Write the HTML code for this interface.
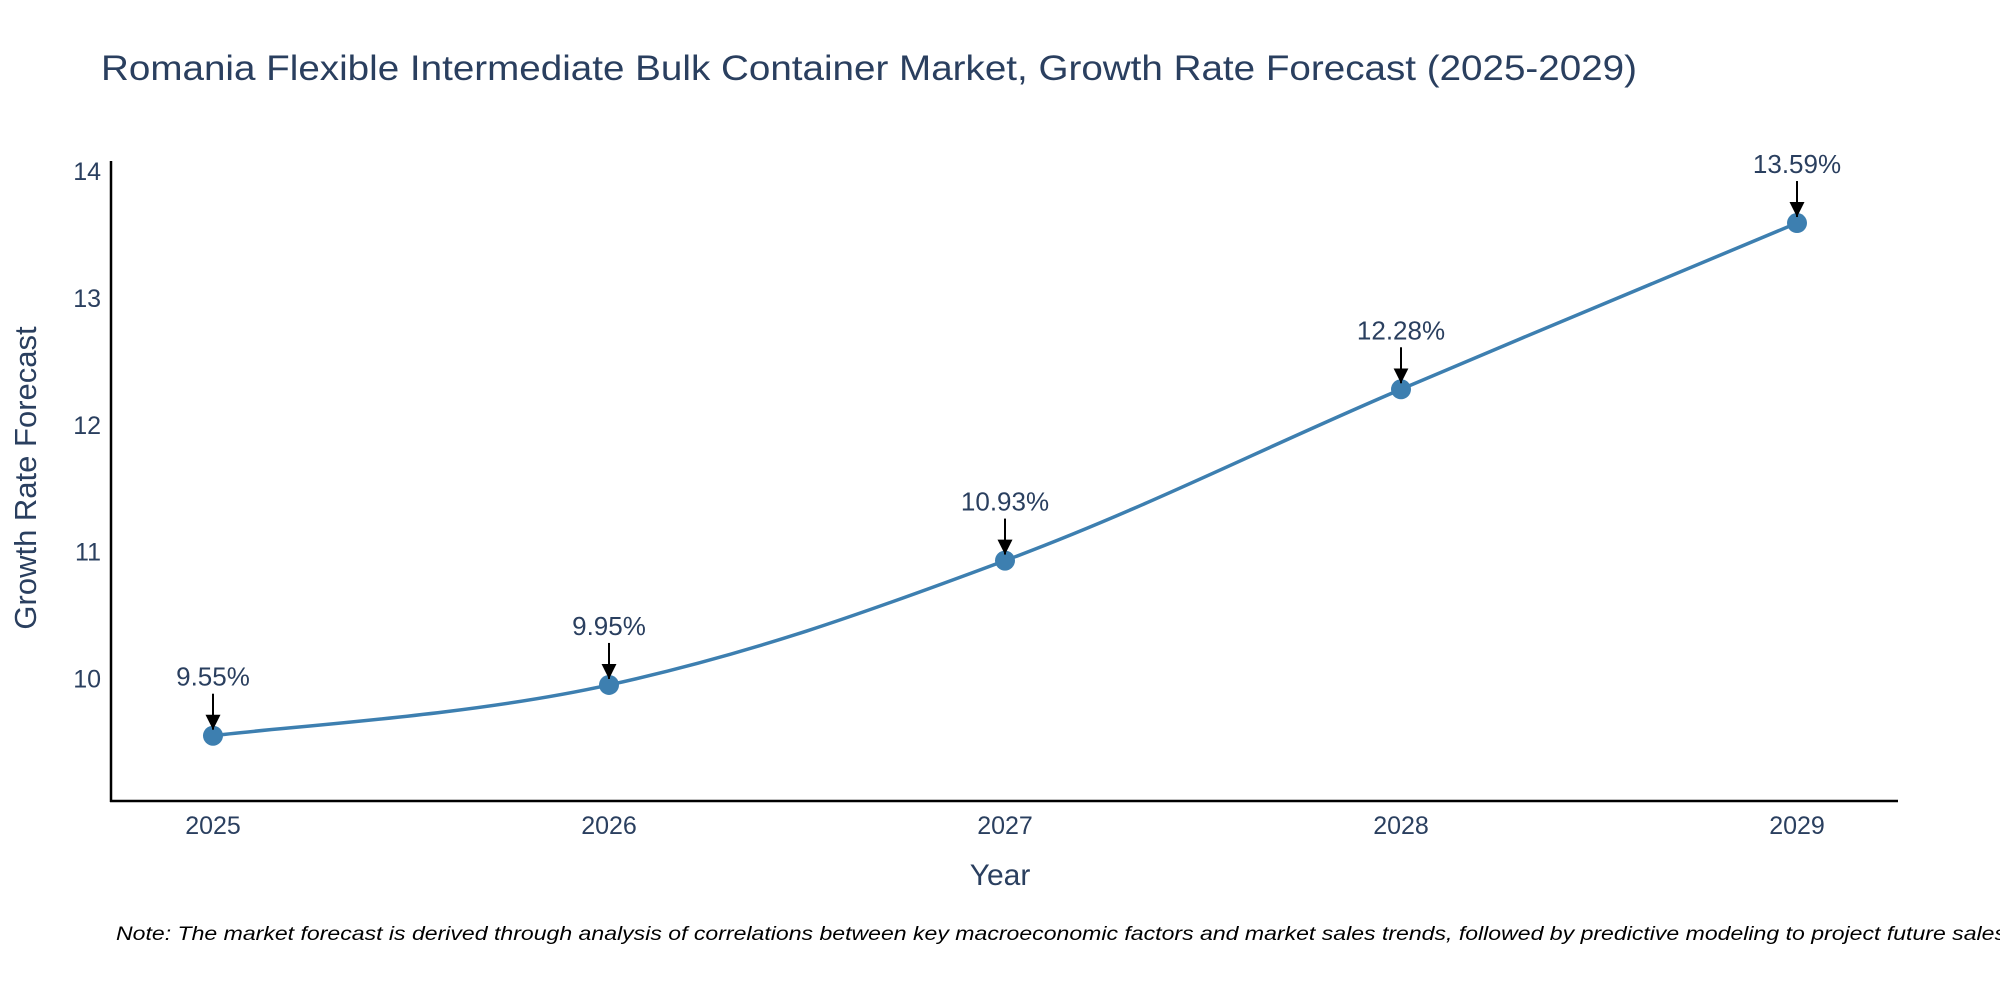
<!DOCTYPE html>
<html><head><meta charset="utf-8"><style>
html,body{margin:0;padding:0;background:#fff;}
svg{display:block;font-family:"Liberation Sans",Arial,sans-serif;}
</style></head><body>
<svg id="chart" width="2000" height="1000" viewBox="0 0 2000 1000">
<defs><marker id="ah" viewBox="0 0 10 10" refX="10" refY="5" markerWidth="15" markerHeight="15" markerUnits="userSpaceOnUse" orient="auto"><path d="M0,0 L10,5 L0,10 z" fill="#000"/></marker></defs>
<text x="101" y="80" font-size="35" fill="#2a3f5f" textLength="1536" lengthAdjust="spacingAndGlyphs">Romania Flexible Intermediate Bulk Container Market, Growth Rate Forecast (2025-2029)</text>
<line x1="111" y1="161" x2="111" y2="802" stroke="#000" stroke-width="2.5"/>
<line x1="110" y1="801" x2="1898" y2="801" stroke="#000" stroke-width="2.5"/>
<g id="yticks"></g><g id="xticks"></g>
<text x="1000" y="885" font-size="30" fill="#2a3f5f" text-anchor="middle">Year</text>
<text transform="translate(36,478) rotate(-90)" font-size="31" fill="#2a3f5f" text-anchor="middle">Growth Rate Forecast</text>
<path id="line" fill="none" stroke="#3d7fb0" stroke-width="3.5"/>
<g id="points"></g><g id="annots"></g>
<text x="116" y="940" font-size="19" font-style="italic" fill="#000" textLength="1890" lengthAdjust="spacingAndGlyphs">Note: The market forecast is derived through analysis of correlations between key macroeconomic factors and market sales trends, followed by predictive modeling to project future sales</text>
</svg>
<script>
const years = [2025, 2026, 2027, 2028, 2029];
const values = [9.55, 9.95, 10.93, 12.28, 13.59];
const labels = ["9.55%", "9.95%", "10.93%", "12.28%", "13.59%"];
const yTicks = [10, 11, 12, 13, 14];
const NS = "http://www.w3.org/2000/svg";
function X(v){return 213 + (v-2025)*(1797-213)/4;}
function Y(v){return 678.6 - (v-10)*126.9;}
function mk(tag, attrs, parent){const e=document.createElementNS(NS,tag);for(const k in attrs)e.setAttribute(k,attrs[k]);parent.appendChild(e);return e;}
const yt=document.getElementById('yticks');
yTicks.forEach(t=>{const e=mk('text',{x:101,y:Y(t)+9,'font-size':25,fill:'#2a3f5f','text-anchor':'end'},yt);e.textContent=t;

});
const xt=document.getElementById('xticks');
years.forEach(t=>{const e=mk('text',{x:X(t),y:834,'font-size':25,fill:'#2a3f5f','text-anchor':'middle'},xt);e.textContent=t;

});
const P=years.map((y,i)=>[X(y),Y(values[i])]);
let d=`M${P[0][0]},${P[0][1]}`;const s=0.18;
for(let i=0;i<P.length-1;i++){const p0=P[Math.max(0,i-1)],p1=P[i],p2=P[i+1],p3=P[Math.min(P.length-1,i+2)];
d+=` C${p1[0]+(p2[0]-p0[0])*s},${p1[1]+(p2[1]-p0[1])*s} ${p2[0]-(p3[0]-p1[0])*s},${p2[1]-(p3[1]-p1[1])*s} ${p2[0]},${p2[1]}`;}
document.getElementById('line').setAttribute('d',d);
const pg=document.getElementById('points'),ag=document.getElementById('annots');
P.forEach((p,i)=>{const c=mk('circle',{cx:p[0],cy:p[1],r:10,fill:'#3d7fb0'},pg);


const l=mk('line',{x1:p[0],y1:p[1]-42,x2:p[0],y2:p[1]-6,stroke:'#000','stroke-width':2,'marker-end':'url(#ah)'},ag);


const t=mk('text',{x:p[0],y:p[1]-50,'font-size':26,fill:'#2a3f5f','text-anchor':'middle'},ag);t.textContent=labels[i];

});
</script>
</body></html>
